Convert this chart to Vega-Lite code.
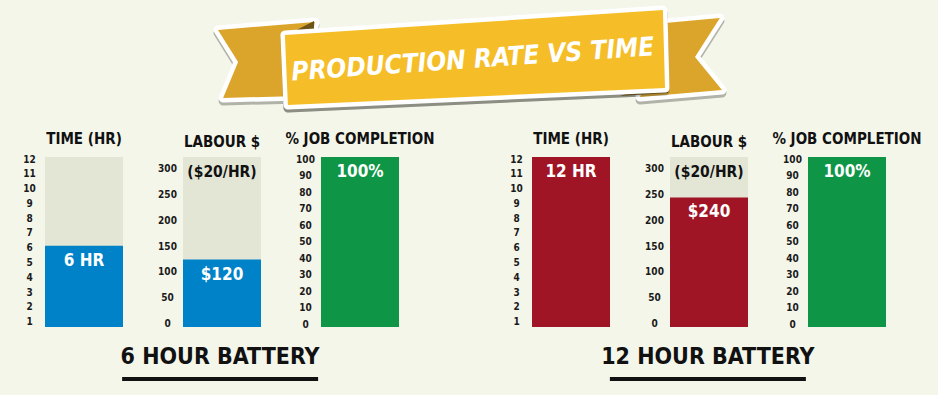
{
  "$schema": "https://vega.github.io/schema/vega-lite/v6.json",
  "padding": {"left": 22, "top": 4, "right": 16, "bottom": 14},
  "data": {"values": [
    {"battery": "6 HOUR BATTERY", "metric": "TIME (HR)", "value": 6, "label": "6 HR"},
    {"battery": "6 HOUR BATTERY", "metric": "LABOUR $", "value": 120, "label": "$120"},
    {"battery": "6 HOUR BATTERY", "metric": "% JOB COMPLETION", "value": 100, "label": "100%"},
    {"battery": "12 HOUR BATTERY", "metric": "TIME (HR)", "value": 12, "label": "12 HR"},
    {"battery": "12 HOUR BATTERY", "metric": "LABOUR $", "value": 240, "label": "$240"},
    {"battery": "12 HOUR BATTERY", "metric": "% JOB COMPLETION", "value": 100, "label": "100%"}
  ]},
  "spacing": 12,
  "vconcat": [
    {
      "width": 850, "height": 116,
      "data": {"values": [{"t": "PRODUCTION RATE VS TIME"}]},
      "layer": [
        {"mark": {"type": "point", "filled": true, "opacity": 0.35, "size": 360000, "fill": "#3a3a30", "stroke": "#3a3a30", "strokeWidth": 9, "strokeJoin": "round", "yOffset": 3,
          "shape": "M-0.84,-0.107L-0.517,-0.133L-0.567,0.113L-0.823,0.12L-0.773,0Z M0.65,-0.13L0.833,-0.147L0.75,-0.017L0.84,0.093L0.567,0.117Z M-0.617,-0.09L0.643,-0.173L0.65,0.087L-0.607,0.143Z"}},
        {"mark": {"type": "point", "filled": true, "opacity": 1, "size": 360000, "fill": "#FFFFFF", "stroke": "#FFFFFF", "strokeWidth": 9, "strokeJoin": "round",
          "shape": "M-0.84,-0.107L-0.517,-0.133L-0.567,0.113L-0.823,0.12L-0.773,0Z M0.65,-0.13L0.833,-0.147L0.75,-0.017L0.84,0.093L0.567,0.117Z"}},
        {"mark": {"type": "point", "filled": true, "opacity": 1, "size": 360000, "fill": "#DBA42A", "strokeWidth": 0,
          "shape": "M-0.84,-0.107L-0.517,-0.133L-0.567,0.113L-0.823,0.12L-0.773,0Z M0.65,-0.13L0.833,-0.147L0.75,-0.017L0.84,0.093L0.567,0.117Z"}},
        {"mark": {"type": "point", "filled": true, "opacity": 1, "size": 360000, "fill": "#6E5417", "strokeWidth": 0,
          "shape": "M-0.617,-0.087L-0.52,-0.137L-0.52,-0.093Z M0.5,0.113L0.66,0.06L0.66,0.103Z"}},
        {"mark": {"type": "point", "filled": true, "opacity": 0.3, "size": 360000, "fill": "#3a3a30", "stroke": "#3a3a30", "strokeWidth": 9, "strokeJoin": "round", "yOffset": 3,
          "shape": "M-0.617,-0.09L0.643,-0.173L0.65,0.087L-0.607,0.143Z"}},
        {"mark": {"type": "point", "filled": true, "opacity": 1, "size": 360000, "fill": "#FFFFFF", "stroke": "#FFFFFF", "strokeWidth": 9, "strokeJoin": "round",
          "shape": "M-0.617,-0.09L0.643,-0.173L0.65,0.087L-0.607,0.143Z"}},
        {"mark": {"type": "point", "filled": true, "opacity": 1, "size": 360000, "fill": "#F5BE28", "strokeWidth": 0,
          "shape": "M-0.617,-0.09L0.643,-0.173L0.65,0.087L-0.607,0.143Z"}},
        {"mark": {"type": "text", "angle": -4, "fontSize": 26, "fontStyle": "italic", "fontWeight": "bold", "color": "#FFFFFF", "dx": 3, "dy": -2},
          "encoding": {"text": {"field": "t"}}}
      ]
    },
    {
      "spacing": 4,
      "vconcat": [
        {
          "spacing": 74,
          "hconcat": [
            {
              "spacing": 60, "bounds": "flush",
              "hconcat": [
                {
                  "width": 78, "height": 170, "view": {"fill": "#E3E5D5", "stroke": null},
                  "title": "TIME (HR)",
                  "transform": [{"filter": "datum.battery === '6 HOUR BATTERY' && datum.metric === 'TIME (HR)'"}],
                  "encoding": {
                    "x": {"field": "metric", "type": "nominal", "axis": null, "scale": {"paddingInner": 0, "paddingOuter": 0}},
                    "y": {"field": "value", "type": "quantitative", "scale": {"domain": [0.5, 12], "zero": false, "nice": false}, "axis": {"title": null, "values": [1,2,3,4,5,6,7,8,9,10,11,12]}}
                  },
                  "layer": [
                    {"mark": {"type": "bar", "color": "#0082C8"}, "encoding": {"y2": {"datum": 0.5}}},
                    {"mark": {"type": "text", "dy": 15, "fontSize": 17, "color": "#FFFFFF"}, "encoding": {"text": {"field": "label"}}}
                  ]
                },
                {
                  "width": 78, "height": 170, "view": {"fill": "#E3E5D5", "stroke": null},
                  "title": "LABOUR $",
                  "transform": [{"filter": "datum.battery === '6 HOUR BATTERY' && datum.metric === 'LABOUR $'"}],
                  "encoding": {
                    "x": {"field": "metric", "type": "nominal", "axis": null, "scale": {"paddingInner": 0, "paddingOuter": 0}},
                    "y": {"field": "value", "type": "quantitative", "scale": {"domain": [-10, 318], "zero": false, "nice": false}, "axis": {"title": null, "values": [0,50,100,150,200,250,300]}}
                  },
                  "layer": [
                    {"mark": {"type": "bar", "color": "#0082C8"}, "encoding": {"y2": {"datum": -10}}},
                    {"mark": {"type": "text", "dy": 15, "fontSize": 17, "color": "#FFFFFF"}, "encoding": {"text": {"field": "label"}}},
                    {"mark": {"type": "text", "dy": 6, "fontSize": 15.5, "color": "#111111"}, "encoding": {"y": {"datum": 300}, "text": {"value": "($20/HR)"}}}
                  ]
                },
                {
                  "width": 78, "height": 170, "view": {"fill": "#E3E5D5", "stroke": null},
                  "title": "% JOB COMPLETION",
                  "transform": [{"filter": "datum.battery === '6 HOUR BATTERY' && datum.metric === '% JOB COMPLETION'"}],
                  "encoding": {
                    "x": {"field": "metric", "type": "nominal", "axis": null, "scale": {"paddingInner": 0, "paddingOuter": 0}},
                    "y": {"field": "value", "type": "quantitative", "scale": {"domain": [-3, 100], "zero": false, "nice": false}, "axis": {"title": null, "values": [0,10,20,30,40,50,60,70,80,90,100]}}
                  },
                  "layer": [
                    {"mark": {"type": "bar", "color": "#0E9646"}, "encoding": {"y2": {"datum": -3}}},
                    {"mark": {"type": "text", "dy": 15, "fontSize": 17, "color": "#FFFFFF"}, "encoding": {"text": {"field": "label"}}}
                  ]
                }
              ]
            },
            {
              "spacing": 60, "bounds": "flush",
              "hconcat": [
                {
                  "width": 78, "height": 170, "view": {"fill": "#E3E5D5", "stroke": null},
                  "title": "TIME (HR)",
                  "transform": [{"filter": "datum.battery === '12 HOUR BATTERY' && datum.metric === 'TIME (HR)'"}],
                  "encoding": {
                    "x": {"field": "metric", "type": "nominal", "axis": null, "scale": {"paddingInner": 0, "paddingOuter": 0}},
                    "y": {"field": "value", "type": "quantitative", "scale": {"domain": [0.5, 12], "zero": false, "nice": false}, "axis": {"title": null, "values": [1,2,3,4,5,6,7,8,9,10,11,12]}}
                  },
                  "layer": [
                    {"mark": {"type": "bar", "color": "#A01525"}, "encoding": {"y2": {"datum": 0.5}}},
                    {"mark": {"type": "text", "dy": 15, "fontSize": 17, "color": "#FFFFFF"}, "encoding": {"text": {"field": "label"}}}
                  ]
                },
                {
                  "width": 78, "height": 170, "view": {"fill": "#E3E5D5", "stroke": null},
                  "title": "LABOUR $",
                  "transform": [{"filter": "datum.battery === '12 HOUR BATTERY' && datum.metric === 'LABOUR $'"}],
                  "encoding": {
                    "x": {"field": "metric", "type": "nominal", "axis": null, "scale": {"paddingInner": 0, "paddingOuter": 0}},
                    "y": {"field": "value", "type": "quantitative", "scale": {"domain": [-10, 318], "zero": false, "nice": false}, "axis": {"title": null, "values": [0,50,100,150,200,250,300]}}
                  },
                  "layer": [
                    {"mark": {"type": "bar", "color": "#A01525"}, "encoding": {"y2": {"datum": -10}}},
                    {"mark": {"type": "text", "dy": 15, "fontSize": 17, "color": "#FFFFFF"}, "encoding": {"text": {"field": "label"}}},
                    {"mark": {"type": "text", "dy": 6, "fontSize": 15.5, "color": "#111111"}, "encoding": {"y": {"datum": 300}, "text": {"value": "($20/HR)"}}}
                  ]
                },
                {
                  "width": 78, "height": 170, "view": {"fill": "#E3E5D5", "stroke": null},
                  "title": "% JOB COMPLETION",
                  "transform": [{"filter": "datum.battery === '12 HOUR BATTERY' && datum.metric === '% JOB COMPLETION'"}],
                  "encoding": {
                    "x": {"field": "metric", "type": "nominal", "axis": null, "scale": {"paddingInner": 0, "paddingOuter": 0}},
                    "y": {"field": "value", "type": "quantitative", "scale": {"domain": [-3, 100], "zero": false, "nice": false}, "axis": {"title": null, "values": [0,10,20,30,40,50,60,70,80,90,100]}}
                  },
                  "layer": [
                    {"mark": {"type": "bar", "color": "#0E9646"}, "encoding": {"y2": {"datum": -3}}},
                    {"mark": {"type": "text", "dy": 15, "fontSize": 17, "color": "#FFFFFF"}, "encoding": {"text": {"field": "label"}}}
                  ]
                }
              ]
            }
          ]
        },
        {
          "width": 838, "height": 45,
          "transform": [{"filter": "datum.metric === 'TIME (HR)'"}],
          "encoding": {
            "x": {"field": "battery", "type": "nominal", "sort": null, "axis": null, "scale": {"paddingInner": 0.6, "paddingOuter": 0.159}}
          },
          "layer": [
            {"mark": {"type": "text", "fontSize": 23, "color": "#111111"}, "encoding": {"text": {"field": "battery"}}},
            {"mark": {"type": "tick", "orient": "horizontal", "size": 196, "thickness": 4, "color": "#111111", "opacity": 1}, "encoding": {"y": {"datum": 0, "type": "quantitative", "scale": {"domain": [0, 1]}, "axis": null}}}
          ]
        }
      ]
    }
  ],
  "config": {
    "background": "#F4F6EA",
    "font": "DejaVu Sans Condensed, sans-serif",
    "view": {"stroke": null},
    "title": {"font": "DejaVu Sans Condensed, sans-serif", "fontSize": 15, "fontWeight": "bold", "color": "#111111", "offset": 7, "frame": "group", "anchor": "middle"},
    "text": {"font": "DejaVu Sans Condensed, sans-serif", "fontWeight": "bold"},
    "axisY": {"domain": false, "ticks": false, "tickSize": 0, "grid": false, "labelAlign": "center", "labelPadding": 16, "labelFontSize": 10, "labelFontWeight": "bold", "labelColor": "#1a1a1a", "labelFont": "DejaVu Sans Condensed, sans-serif", "labelOverlap": false, "labelFlush": false, "labelOffset": 2, "labelBaseline": "middle"}
  }
}
